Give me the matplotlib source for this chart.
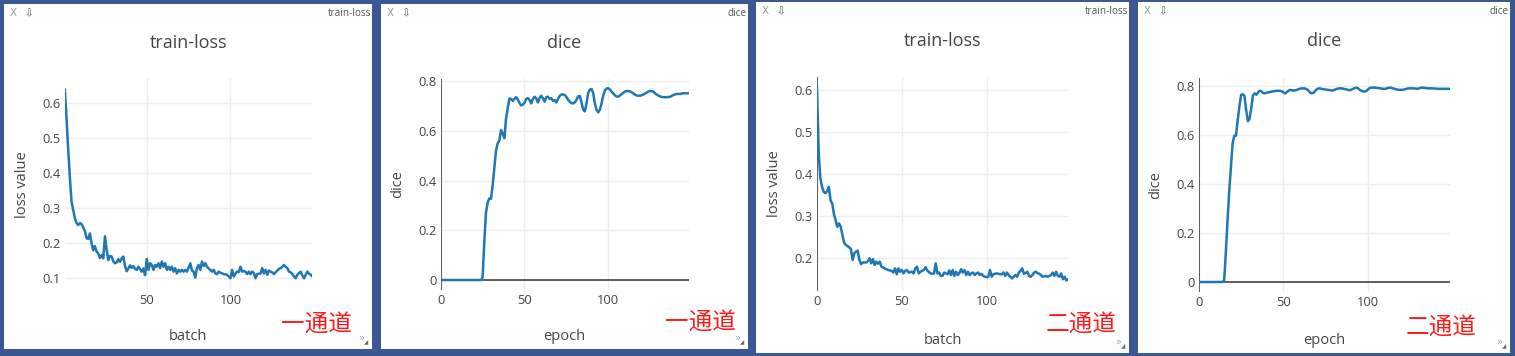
import numpy as np
import matplotlib
matplotlib.use('Agg')
import matplotlib.pyplot as plt
from matplotlib.patches import Rectangle
from matplotlib.ticker import FuncFormatter, FixedLocator

# ---------------- data ----------------
loss1 = [0.638, 0.56, 0.47, 0.39, 0.32, 0.295, 0.272, 0.258, 0.252, 0.258,
         0.255, 0.245, 0.235, 0.215, 0.212, 0.228, 0.2, 0.18, 0.192, 0.176,
         0.171, 0.158, 0.166, 0.157, 0.22, 0.182, 0.152, 0.164, 0.162, 0.148,
         0.143, 0.145, 0.155, 0.147, 0.157, 0.162, 0.135, 0.12, 0.128, 0.137,
         0.13, 0.135, 0.127, 0.124, 0.133, 0.126, 0.119, 0.128, 0.109, 0.155,
         0.124, 0.143, 0.138, 0.124, 0.138, 0.133, 0.143, 0.129, 0.148, 0.133,
         0.143, 0.124, 0.133, 0.124, 0.133, 0.119, 0.129, 0.114, 0.124, 0.119,
         0.124, 0.119, 0.124, 0.119, 0.13, 0.143, 0.122, 0.119, 0.102, 0.129,
         0.138, 0.124, 0.148, 0.135, 0.143, 0.133, 0.128, 0.124, 0.119, 0.124,
         0.114, 0.112, 0.119, 0.116, 0.114, 0.112, 0.111, 0.11, 0.105, 0.1,
         0.124, 0.105, 0.114, 0.119, 0.118, 0.133, 0.119, 0.121, 0.119, 0.112,
         0.119, 0.112, 0.119, 0.115, 0.1, 0.112, 0.113, 0.114, 0.129, 0.114,
         0.124, 0.11, 0.122, 0.119, 0.117, 0.112, 0.117, 0.122, 0.127, 0.129,
         0.133, 0.138, 0.133, 0.129, 0.119, 0.117, 0.112, 0.105, 0.1, 0.11,
         0.115, 0.119, 0.108, 0.1, 0.11, 0.119, 0.113, 0.11, 0.105]
loss1_x = np.arange(1, len(loss1) + 1)

dice1 = [0, 0, 0, 0, 0, 0, 0, 0, 0, 0,
         0, 0, 0, 0, 0, 0, 0, 0, 0, 0,
         0, 0, 0, 0, 0, 0.01, 0.15, 0.27, 0.31, 0.328,
         0.326, 0.38, 0.45, 0.52, 0.55, 0.56, 0.603, 0.588, 0.57, 0.65,
         0.69, 0.73, 0.728, 0.72, 0.728, 0.735, 0.726, 0.712, 0.702, 0.705,
         0.712, 0.728, 0.731, 0.724, 0.71, 0.728, 0.737, 0.731, 0.714, 0.731,
         0.741, 0.731, 0.717, 0.735, 0.737, 0.728, 0.731, 0.72, 0.724, 0.714,
         0.728, 0.74, 0.746, 0.746, 0.744, 0.736, 0.725, 0.717, 0.711, 0.71,
         0.714, 0.724, 0.738, 0.74, 0.715, 0.685, 0.678, 0.71, 0.752, 0.765,
         0.768, 0.752, 0.71, 0.684, 0.674, 0.685, 0.71, 0.742, 0.762, 0.77,
         0.771, 0.766, 0.757, 0.75, 0.742, 0.738, 0.737, 0.742, 0.748, 0.753,
         0.758, 0.76, 0.76, 0.758, 0.755, 0.75, 0.745, 0.742, 0.741, 0.741,
         0.743, 0.746, 0.75, 0.754, 0.758, 0.76, 0.759, 0.757, 0.75, 0.745,
         0.741, 0.738, 0.736, 0.735, 0.735, 0.735, 0.736, 0.737, 0.741, 0.744,
         0.747, 0.748, 0.748, 0.748, 0.75, 0.751, 0.751, 0.751, 0.751]
dice1_x = np.arange(len(dice1))

loss2 = [0.605, 0.45, 0.39, 0.37, 0.358, 0.355, 0.36, 0.37, 0.338, 0.33,
         0.305, 0.29, 0.275, 0.283, 0.275, 0.255, 0.237, 0.232, 0.229, 0.226,
         0.222, 0.196, 0.212, 0.216, 0.218, 0.196, 0.186, 0.19, 0.19, 0.19,
         0.193, 0.2, 0.188, 0.198, 0.184, 0.192, 0.187, 0.192, 0.18, 0.178,
         0.175, 0.174, 0.172, 0.171, 0.17, 0.166, 0.176, 0.162, 0.176, 0.168,
         0.172, 0.164, 0.17, 0.172, 0.166, 0.167, 0.168, 0.164, 0.176, 0.18,
         0.164, 0.168, 0.17, 0.172, 0.179, 0.171, 0.167, 0.164, 0.163, 0.164,
         0.188, 0.164, 0.166, 0.158, 0.158, 0.166, 0.164, 0.162, 0.171, 0.16,
         0.172, 0.158, 0.168, 0.16, 0.165, 0.174, 0.166, 0.172, 0.16, 0.168,
         0.16, 0.164, 0.166, 0.16, 0.164, 0.166, 0.16, 0.163, 0.158, 0.156,
         0.155, 0.156, 0.172, 0.156, 0.162, 0.163, 0.164, 0.163, 0.162, 0.162,
         0.166, 0.158, 0.166, 0.16, 0.156, 0.152, 0.156, 0.16, 0.156, 0.166,
         0.17, 0.176, 0.163, 0.165, 0.168, 0.158, 0.156, 0.16, 0.166, 0.168,
         0.165, 0.163, 0.16, 0.156, 0.157, 0.158, 0.156, 0.158, 0.16, 0.166,
         0.158, 0.168, 0.158, 0.156, 0.164, 0.15, 0.156, 0.147, 0.15]
loss2_x = np.arange(len(loss2))

dice2 = [0, 0, 0, 0, 0, 0, 0, 0, 0, 0,
         0, 0, 0, 0, 0, 0.005, 0.12, 0.25, 0.37, 0.47,
         0.565, 0.596, 0.596, 0.66, 0.715, 0.762, 0.765, 0.758, 0.7, 0.655,
         0.665, 0.71, 0.76, 0.769, 0.763, 0.772, 0.779, 0.777, 0.77, 0.769,
         0.771, 0.773, 0.774, 0.776, 0.777, 0.778, 0.779, 0.779, 0.779, 0.777,
         0.773, 0.768, 0.774, 0.78, 0.783, 0.781, 0.78, 0.781, 0.783, 0.786,
         0.788, 0.789, 0.789, 0.788, 0.784, 0.778, 0.77, 0.769, 0.773, 0.781,
         0.787, 0.789, 0.788, 0.786, 0.785, 0.784, 0.783, 0.782, 0.781, 0.78,
         0.783, 0.786, 0.788, 0.789, 0.789, 0.788, 0.786, 0.785, 0.783, 0.781,
         0.784, 0.787, 0.79, 0.792, 0.789, 0.783, 0.779, 0.777, 0.776, 0.779,
         0.786, 0.791, 0.792, 0.792, 0.792, 0.791, 0.79, 0.789, 0.788, 0.787,
         0.787, 0.789, 0.791, 0.792, 0.79, 0.788, 0.786, 0.784, 0.783, 0.783,
         0.783, 0.784, 0.786, 0.788, 0.789, 0.789, 0.789, 0.789, 0.788, 0.787,
         0.789, 0.791, 0.792, 0.791, 0.79, 0.789, 0.789, 0.789, 0.789, 0.788,
         0.788, 0.787, 0.787, 0.787, 0.787, 0.787, 0.787, 0.787, 0.787]
dice2_x = np.arange(len(dice2))

titles = ['train-loss', 'dice', 'train-loss', 'dice']
xlabels = ['batch', 'epoch', 'batch', 'epoch']
ylabels = ['loss value', 'dice', 'loss value', 'dice']
tags = ['一通道', '一通道', '二通道', '二通道']
xticks = [[50, 100], [0, 50, 100], [0, 50, 100], [0, 50, 100]]
yticks = [[0.1, 0.2, 0.3, 0.4, 0.5, 0.6], [0, 0.2, 0.4, 0.6, 0.8],
          [0.2, 0.3, 0.4, 0.5, 0.6], [0, 0.2, 0.4, 0.6, 0.8]]

# ---------------- layout (pixels) ----------------
W, H = 1515, 356
BG = '#3b5794'
LINE = '#1f77b4'
TXT = '#444444'

cards = [(4, 4, 372, 349), (381, 4, 748, 349), (756, 2, 1129, 353), (1138, 2, 1510, 353)]
boxes = [(64.8, 78.3, 312.4, 290.0), (440.7, 78.8, 688.7, 289.6),
         (817.0, 77.3, 1068.0, 290.6), (1198.7, 77.9, 1449.7, 291.7)]
ylims = [(0.0666, 0.671), (-0.0386, 0.809), (0.123, 0.631), (-0.0396, 0.8316)]
title_y = [42.7, 42.7, 41.0, 41.0]
xlabel_y = [337, 337, 340, 340]
ylabel_x = [22, 398, 774, 1156]
tag_pos = [(316, 325), (700, 323), (1081, 325), (1441, 328)]

series = [(loss1_x, loss1), (dice1_x, dice1), (loss2_x, loss2), (dice2_x, dice2)]

plt.rcParams['font.family'] = ['Open Sans', 'DejaVu Sans']

fig = plt.figure(figsize=(W / 100, H / 100), dpi=100)
fig.patch.set_facecolor(BG)


def fx(x):
    return x / W


def fy(y):
    return 1 - y / H


fmt = FuncFormatter(lambda v, p: f"{v:g}")

for i in range(4):
    cx0, cy0, cx1, cy1 = cards[i]
    fig.patches.append(Rectangle((fx(cx0), fy(cy1)), (cx1 - cx0) / W, (cy1 - cy0) / H,
                                 transform=fig.transFigure, facecolor='white',
                                 edgecolor='none', zorder=-5))
    bx0, by0, bx1, by1 = boxes[i]
    ax = fig.add_axes([fx(bx0), fy(by1), (bx1 - bx0) / W, (by1 - by0) / H])
    ax.set_zorder(1)
    ax.set_facecolor('none')
    xs, ys = series[i]
    ax.plot(xs, ys, color=LINE, lw=1.8, solid_joinstyle='round', zorder=3)
    ax.set_xlim(xs[0], xs[-1])
    ax.set_ylim(*ylims[i])
    ax.xaxis.set_major_locator(FixedLocator(xticks[i]))
    ax.yaxis.set_major_locator(FixedLocator(yticks[i]))
    ax.yaxis.set_major_formatter(fmt)
    ax.grid(True, color='#eeeeee', lw=1.0)
    ax.set_axisbelow(True)
    for s in ax.spines.values():
        s.set_visible(False)
    ax.tick_params(length=0, labelsize=9.3, colors=TXT, pad=3)
    if xs[0] <= 0 <= xs[-1]:
        ax.axvline(0, color=TXT, lw=1.2, zorder=2)
    if ylims[i][0] <= 0 <= ylims[i][1]:
        ax.axhline(0, color=TXT, lw=1.2, zorder=2)

    ccx = (cx0 + cx1) / 2
    fig.text(fx(ccx), fy(title_y[i]), titles[i], ha='center', va='center',
             fontsize=13, color=TXT)
    fig.text(fx(ccx), fy(xlabel_y[i]), xlabels[i], ha='center', va='center',
             fontsize=10.5, color=TXT)
    fig.text(fx(ylabel_x[i]), fy((by0 + by1) / 2), ylabels[i], ha='center', va='center',
             rotation=90, fontsize=10.5, color=TXT)
    # window header
    fig.text(fx(cx0 + 6), fy(cy0 + 9), 'X', ha='left', va='center', fontsize=7.5,
             color='#9a9a9a', family=['DejaVu Sans'])
    fig.text(fx(cx0 + 20), fy(cy0 + 9), '⇩', ha='left', va='center', fontsize=7.5,
             color='#555555', family=['DejaVu Sans'])
    fig.text(fx(cx1 - 1), fy(cy0 + 10), titles[i], ha='right', va='center', fontsize=7.2,
             color='#555555')
    # red annotation
    fig.text(fx(tag_pos[i][0]), fy(tag_pos[i][1]), tags[i], ha='center', va='center',
             fontsize=17, color='#ff1a1a', family=['Noto Sans CJK SC', 'DejaVu Sans'])
    # resize corner marks
    fig.text(fx(cx1 - 11), fy(cy1 - 11), '»', ha='center', va='center', fontsize=7,
             color='#8fa6e8', family=['DejaVu Sans'])
    fig.text(fx(cx1 - 6), fy(cy1 - 6), '◢', ha='center', va='center', fontsize=4,
             color='#666666', family=['DejaVu Sans'])

fig.savefig('out.png', dpi=100, facecolor=BG)
